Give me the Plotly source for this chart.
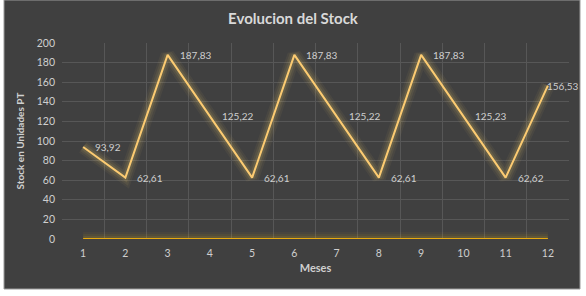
import plotly.graph_objects as go

meses = list(range(1, 13))
stock = [93.92, 62.61, 187.83, 125.22, 62.61, 187.83, 125.22, 62.61, 187.83, 125.23, 62.62, 156.53]
cero = [0] * 12
y_ticks = list(range(0, 201, 20))

W, H = 586, 296
L, R, T, B = 62, 17, 43, 57
pw, ph = W - L - R, H - T - B

labels = [f"{v:.2f}".replace(".", ",") for v in stock]

BG = "#404040"
GRID = "#575757"
TXT = "#cfcfcf"
FONT = "Lato, Open Sans, sans-serif"

fig = go.Figure()

# glow layers
for w, op in [(14, 0.05), (10, 0.07), (6, 0.11)]:
    fig.add_trace(go.Scatter(x=meses, y=stock, mode="lines",
                             line=dict(color=f"rgba(255,215,110,{op})", width=w),
                             hoverinfo="skip", showlegend=False, cliponaxis=False))
    fig.add_trace(go.Scatter(x=meses, y=cero, mode="lines",
                             line=dict(color=f"rgba(230,180,30,{op})", width=w),
                             hoverinfo="skip", showlegend=False, cliponaxis=False))

fig.add_trace(go.Scatter(x=meses, y=cero, mode="lines",
                         line=dict(color="#E8AA10", width=2.2),
                         showlegend=False, cliponaxis=False))
fig.add_trace(go.Scatter(x=meses, y=stock, mode="lines",
                         line=dict(color="#FCCB72", width=2),
                         showlegend=False, cliponaxis=False))

# data labels
for i, (m, v, t) in enumerate(zip(meses, stock, labels)):
    shift = 10 if i < len(meses) - 1 else -3
    fig.add_annotation(x=m, y=v, text=t, showarrow=False, xanchor="left", yanchor="middle",
                       xshift=shift, font=dict(family=FONT, size=10, color=TXT))

# dark panel with white edges
fig.add_shape(type="rect", xref="paper", yref="paper", layer="below",
              x0=(4 - L) / pw, x1=(580 - L) / pw,
              y0=(H - B - 289) / ph, y1=(H - B - 0) / ph,
              fillcolor=BG, line=dict(color="#9a9a9a", width=1))

fig.update_layout(
    width=W, height=H,
    margin=dict(l=L, r=R, t=T, b=B),
    paper_bgcolor="white", plot_bgcolor=BG,
    title=dict(text="<b>Evolucion del Stock</b>", x=293 / W, xref="container", xanchor="center",
               y=1 - 19 / H, yanchor="middle",
               font=dict(family=FONT, size=15, color="#d9d9d9")),
    font=dict(family=FONT, color=TXT),
    xaxis=dict(range=[0.5, 12.5], tickvals=meses, ticktext=[str(m) for m in meses],
               showgrid=False, zeroline=False, showline=False, ticks="",
               ticklabelstandoff=6,
               tickfont=dict(size=10.5, color=TXT),
               minor=dict(tick0=0.5, dtick=1, showgrid=True, gridcolor=GRID, gridwidth=1),
               title=dict(text="<b>Meses</b>", font=dict(size=11, color=TXT), standoff=6)),
    yaxis=dict(range=[0, 200], tickvals=y_ticks, showgrid=True, gridcolor=GRID, gridwidth=1,
               zeroline=False, showline=False, ticks="", ticklabelstandoff=6,
               tickfont=dict(size=10.5, color=TXT),
               title=dict(text="<b>Stock en Unidades PT</b>", font=dict(size=10, color=TXT), standoff=10)),
)

fig.write_html("out.html")
